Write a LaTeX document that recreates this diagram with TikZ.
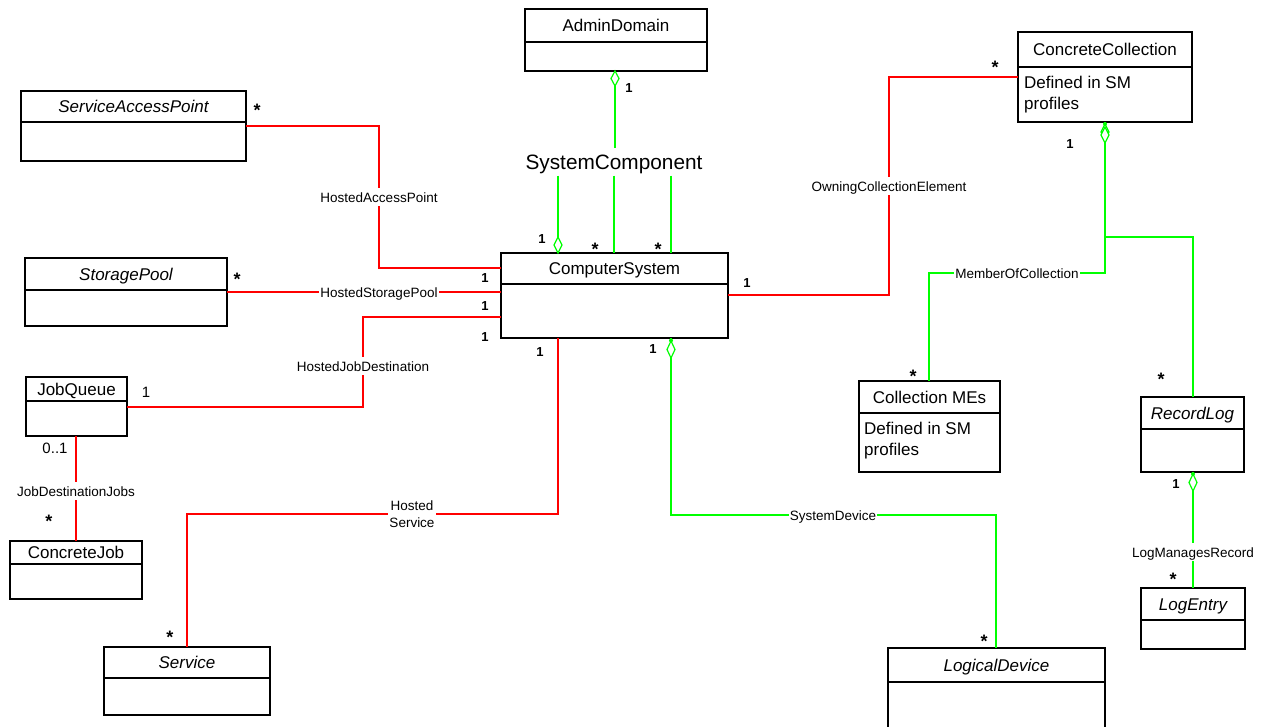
\documentclass[tikz,border=0pt]{standalone}
\usepackage{fontspec}
\setmainfont{Liberation Sans}
\usetikzlibrary{fit}
\definecolor{lred}{rgb}{1,0,0}
\definecolor{lgreen}{rgb}{0,1,0}
\tikzset{
  classbox/.style={draw=black, line width=1.3pt, inner sep=0pt, outer sep=0pt},
  divline/.style={draw=black, line width=1.3pt},
  ctitle/.style={font=\fontsize{17}{20}\selectfont, inner sep=0pt, text height=12.2pt, text depth=0pt},
  cititle/.style={font=\fontsize{17}{20}\selectfont\itshape, inner sep=0pt, text height=12.2pt, text depth=0pt},
  btext/.style={font=\fontsize{17}{20}\selectfont, inner sep=0pt, anchor=base west},
  rline/.style={draw=lred, line width=1.3pt},
  gline/.style={draw=lgreen, line width=1.3pt},
  clabel/.style={font=\fontsize{13.5}{17}\selectfont, fill=white, inner xsep=1pt, inner ysep=4pt, text height=10pt, text depth=0pt},
  clabel2/.style={font=\fontsize{13.5}{17}\selectfont, fill=white, inner xsep=1pt, inner ysep=1pt, align=center},
  sclabel/.style={font=\fontsize{20.8}{24}\selectfont, inner xsep=0pt, inner ysep=6pt, text height=15pt, text depth=0pt},
  mbold/.style={font=\fontsize{13}{15}\selectfont\bfseries, inner sep=0pt},
  mreg/.style={font=\fontsize{15}{17}\selectfont, inner sep=0pt},
  mstar/.style={font=\fontsize{18}{20}\selectfont\bfseries, inner sep=0pt, yshift=-4pt},
  gdiamond/.style={draw=lgreen, line width=1.2pt, fill=white}
}
% #1 name, #2 x1, #3 y1, #4 x2, #5 y divider, #6 y2, #7 title, #8 title style
\newcommand\umlclass[8]{%
  \node[classbox, fit={(#2,#3) (#4,#6)}] (#1) {};
  \draw[divline] (#1.west |- 0,#5) -- (#1.east |- 0,#5);
  \node[#8] (#1-title) at ({(#2+#4)/2},{(#3+#5)/2}) {#7};
}
% diamond: tip at (#1,#2), signed length #3 (positive = downwards)
\newcommand\gdia[3]{%
  \draw[gdiamond] (#1,#2) -- ++(4,{#3/2}) -- ++(-4,{#3/2}) -- ++(-4,{-#3/2}) -- cycle;
}
\begin{document}
\begin{tikzpicture}[x=1pt,y=-1pt]
\useasboundingbox (0,0) rectangle (1261,726);
\clip (0,0) rectangle (1261,726);

% ---------------- classes ----------------
\umlclass{AD}{525}{9}{707}{42}{71}{AdminDomain}{ctitle}
\umlclass{SAP}{21}{91}{246}{122}{161}{ServiceAccessPoint}{cititle}
\umlclass{SP}{25}{258}{227}{290}{326}{StoragePool}{cititle}
\umlclass{CS}{501}{253}{728}{284}{338}{ComputerSystem}{ctitle}
\umlclass{CC}{1018}{32}{1192}{67}{122}{ConcreteCollection}{ctitle}
\umlclass{JQ}{26}{377}{127}{401}{436}{JobQueue}{ctitle}
\umlclass{CJ}{10}{541}{142}{564}{599}{ConcreteJob}{ctitle}
\umlclass{SV}{104}{647}{270}{678}{715}{Service}{cititle}
\umlclass{CM}{859}{381}{1000}{413}{472}{Collection MEs}{ctitle}
\umlclass{RL}{1141}{397}{1244}{429}{472}{RecordLog}{cititle}
\umlclass{LE}{1141}{588}{1245}{620}{649}{LogEntry}{cititle}
\umlclass{LD}{888}{648}{1105}{682}{760}{LogicalDevice}{cititle}

\node[btext] (CC-b1) at (1024,88) {Defined in SM};
\node[btext] (CC-b2) at (1024,109) {profiles};
\node[btext] (CM-b1) at (864,434) {Defined in SM};
\node[btext] (CM-b2) at (864,455) {profiles};

% ---------------- red connectors ----------------
\coordinate (hap1) at (379,126);
\coordinate (hap2) at (379,268);
\draw[rline] (SAP.east) -- (hap1) -- (hap2) -- (CS.west |- hap2);
\node[clabel] (l-hap) at (379,197) {HostedAccessPoint};

\draw[rline] (SP.east) -- (CS.west |- SP.east);
\node[clabel] (l-hsp) at (379,292) {HostedStoragePool};

\coordinate (hjd1) at (363,317);
\coordinate (hjd2) at (363,407);
\draw[rline] (CS.west |- hjd1) -- (hjd1) -- (hjd2) -- (JQ.east |- hjd2);
\node[clabel] (l-hjd) at (363,366) {HostedJobDestination};

\coordinate (jdj) at (76,450);
\draw[rline] (JQ.south -| jdj) -- (CJ.north -| jdj);
\node[clabel] (l-jdj) at (76,491) {JobDestinationJobs};

\coordinate (hs1) at (558,514);
\coordinate (hs2) at (187,514);
\draw[rline] (CS.south -| hs1) -- (hs1) -- (hs2) -- (SV.north -| hs2);
\node[clabel2] (l-hs) at (412,514) {Hosted\\Service};

\coordinate (oce1) at (889,295);
\coordinate (oce2) at (889,77);
\draw[rline] (CS.east |- oce1) -- (oce1) -- (oce2) -- (CC.west |- oce2);
\node[clabel] (l-oce) at (889,186) {OwningCollectionElement};

% ---------------- green connectors ----------------
\node[sclabel] (scl) at (614,162) {SystemComponent};
\coordinate (csa) at (558,253);
\coordinate (csb) at (671,253);
\draw[gline] (AD.south -| 615,0) -- (scl.north -| 615,0);
\gdia{615}{71}{15}
\draw[gline] (scl.south -| csa) -- (csa);
\draw[gline] (scl.south) -- (CS.north -| scl.south);
\draw[gline] (scl.south -| csb) -- (csb);
\gdia{558}{253}{-16}

\coordinate (sd1) at (671,515);
\coordinate (sd2) at (996,515);
\draw[gline] (CS.south -| sd1) -- (sd1) -- (sd2) -- (LD.north -| sd2);
\gdia{671}{341}{17}
\fill[lgreen] (671,340.5) circle (2pt);
\node[clabel] (l-sd) at (833,515) {SystemDevice};

\coordinate (moc1) at (1105,273);
\coordinate (moc2) at (929,273);
\coordinate (moc3) at (1105,237);
\coordinate (moc4) at (1193,237);
\draw[gline] (CC.south) -- (moc1) -- (moc2) -- (CM.north -| moc2);
\draw[gline] (moc3) -- (moc4) -- (RL.north -| moc4);
\gdia{1105}{124}{16}
\gdia{1105}{127}{16}
\fill[lgreen] (1105,124) circle (2pt);
\node[clabel] (l-moc) at (1017,273) {MemberOfCollection};

\draw[gline] (RL.south -| moc4) -- (LE.north -| moc4);
\gdia{1193}{474}{17}
\fill[lgreen] (1193,474) circle (2pt);
\node[clabel] (l-lmr) at (1193,552) {LogManagesRecord};

% ---------------- multiplicities ----------------
\node[mstar] (m-sap) at (257,106) {*};
\node[mstar] (m-sp) at (237,275) {*};
\node[mbold] (m-cs1) at (485,278) {1};
\node[mbold] (m-cs2) at (485,306) {1};
\node[mbold] (m-cs3) at (485,337) {1};
\node[mreg] (m-jq1) at (146,392) {1};
\node[mreg] (m-jq2) at (55,448) {0..1};
\node[mstar] (m-cj) at (49,517) {*};
\node[mstar] (m-sv) at (170,633) {*};
\node[mbold] (m-csb1) at (540,352) {1};
\node[mbold] (m-csb2) at (653,349) {1};
\node[mbold] (m-cse) at (747,283) {1};
\node[mstar] (m-cc) at (995,63) {*};
\node[mbold] (m-cc1) at (1070,144) {1};
\node[mstar] (m-cm) at (913,372) {*};
\node[mstar] (m-rl) at (1161,375) {*};
\node[mbold] (m-rl1) at (1176,484) {1};
\node[mstar] (m-le) at (1173,575) {*};
\node[mstar] (m-ld) at (984,637) {*};
\node[mbold] (m-ad) at (629,88) {1};
\node[mbold] (m-cst1) at (542,239) {1};
\node[mstar] (m-cst2) at (595,245) {*};
\node[mstar] (m-cst3) at (658,245) {*};
\end{tikzpicture}
\end{document}
